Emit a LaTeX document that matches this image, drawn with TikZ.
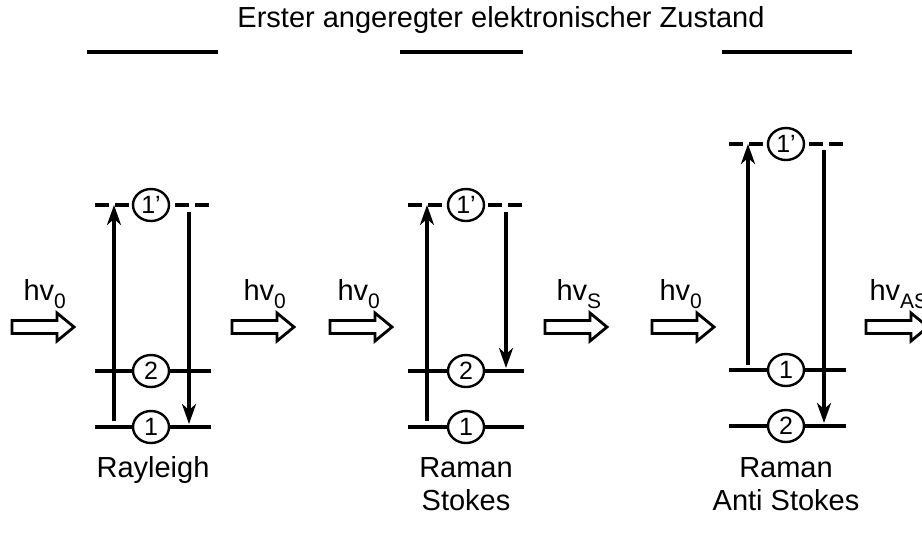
\documentclass[tikz,border=0pt]{standalone}
\usepackage{fontspec}
\setmainfont{Liberation Sans}
\usetikzlibrary{arrows.meta,shapes.geometric}
\newcommand{\lowidx}[1]{\raisebox{-0.3em}{\fontsize{21}{21}\selectfont #1}}
\begin{document}
\begin{tikzpicture}[x=1pt,y=-1pt,
  lvl/.style={line width=3.2pt},
  virt/.style={line width=3.4pt, dash pattern=on 14pt off 6pt},
  trans/.style={line width=3.4pt, -{Stealth[length=20pt,width=14pt,inset=6pt]}},
  num/.style={ellipse, draw, line width=2.4pt, fill=white, minimum width=36pt,
    minimum height=32pt, inner sep=0pt, font=\fontsize{25}{25}\selectfont},
  lab/.style={font=\fontsize{29}{34}\selectfont, anchor=base},
  hvlab/.style={font=\fontsize{29}{34}\selectfont, anchor=base west},
  photon/.pic={\draw[line width=2.8pt, fill=white] (0,-6.5) -- (45,-6.5) -- (45,-14)
     -- (62,0) -- (45,14) -- (45,6.5) -- (0,6.5) -- cycle;},
]
\useasboundingbox (0,0) rectangle (922,542);
\clip (0,0) rectangle (922,542);

% title
\node[lab] (title) at (501,27) {Erster angeregter elektronischer Zustand};
\draw[lvl] (87,52) -- (218,52);
\draw[lvl] (400,52) -- (523,52);
\draw[lvl] (722,52) -- (852,52);

% ---------- Rayleigh ----------
\draw[virt] (95,205) -- (211,205);
\draw[lvl] (95,371) -- (211,371);
\draw[lvl] (95,427) -- (211,427);
\node[num] (r1v) at (151,205) {1'};
\node[num] (r2) at (151,371) {2};
\node[num] (r1) at (151,427) {1};
\coordinate (ru0) at (114,421); \coordinate (ru1) at (114,205);
\coordinate (rd0) at (189,212); \coordinate (rd1) at (189,424);
\draw[trans] (ru0) -- (ru1);
\draw[trans] (rd0) -- (rd1);
\node[lab] (rl) at (153,477) {Rayleigh};

% ---------- Raman Stokes ----------
\draw[virt] (408,205) -- (524,205);
\draw[lvl] (408,371) -- (524,371);
\draw[lvl] (408,427) -- (524,427);
\node[num] (s1v) at (466,205) {1'};
\node[num] (s2) at (466,371) {2};
\node[num] (s1) at (466,427) {1};
\coordinate (su0) at (427,421); \coordinate (su1) at (427,205);
\coordinate (sd0) at (506,212); \coordinate (sd1) at (506,368);
\draw[trans] (su0) -- (su1);
\draw[trans] (sd0) -- (sd1);
\node[lab] (sl1) at (466,477) {Raman};
\node[lab] (sl2) at (466,510) {Stokes};

% ---------- Raman Anti Stokes ----------
\draw[virt] (729,144) -- (846,144);
\draw[lvl] (729,370) -- (846,370);
\draw[lvl] (729,426) -- (846,426);
\node[num] (a1v) at (786,144) {1'};
\node[num] (a1) at (786,370) {1};
\node[num] (a2) at (786,426) {2};
\coordinate (au0) at (748,365); \coordinate (au1) at (748,144);
\coordinate (ad0) at (824,150); \coordinate (ad1) at (824,423);
\draw[trans] (au0) -- (au1);
\draw[trans] (ad0) -- (ad1);
\node[lab] (al1) at (786,477) {Raman};
\node[lab] (al2) at (786,510) {Anti Stokes};

% ---------- photons ----------
\pic at (12,327) {photon};
\pic at (232,327) {photon};
\pic at (330,327) {photon};
\pic at (545,327) {photon};
\pic at (652,327) {photon};
\pic at (866,327) {photon};
\node[hvlab] (h1) at (20,300) {hv\lowidx{0}};
\node[hvlab] (h2) at (240,300) {hv\lowidx{0}};
\node[hvlab] (h3) at (334,300) {hv\lowidx{0}};
\node[hvlab] (h4) at (553,300) {hv\lowidx{S}};
\node[hvlab] (h5) at (656,300) {hv\lowidx{0}};
\node[hvlab] (h6) at (866,300) {hv\lowidx{AS}};
\end{tikzpicture}
\end{document}
